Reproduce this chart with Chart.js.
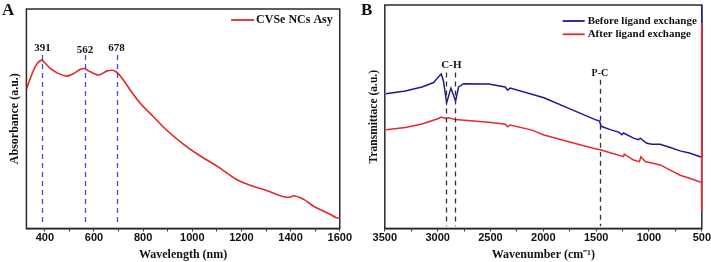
<!DOCTYPE html>
<html>
<head>
<meta charset="utf-8">
<script src="https://cdn.jsdelivr.net/npm/chart.js@4.4.1/dist/chart.umd.min.js"></script>
<style>
body { margin: 0; background: #fff; }
#wrap { position: relative; width: 711px; height: 262px; overflow: hidden; background: #fff; }
.panel { position: absolute; top: 0; height: 262px; }
.tag { position: absolute; font: bold 17px 'Liberation Serif', serif; color: #111; line-height: 17px; }
</style>
</head>
<body>
<div id="wrap">
  <div class="panel" style="left:0;width:352px"><canvas id="chartA"></canvas></div>
  <div class="panel" style="left:352px;width:359px"><canvas id="chartB"></canvas></div>
  <div class="tag" style="left:2px;top:1px">A</div>
  <div class="tag" style="left:361px;top:1px">B</div>
</div>
<script>
// panel A: absorbance spectrum
const wavelength = [325, 341, 361, 375, 387, 402, 422, 450, 490, 517, 545, 560, 578, 619, 653, 674, 690, 708, 748, 789, 843, 884, 966, 1034, 1102, 1188, 1305, 1387, 1400, 1411, 1455, 1495, 1523, 1563, 1584, 1600];
const absorbance = [0.633, 0.684, 0.737, 0.759, 0.767, 0.752, 0.729, 0.709, 0.694, 0.706, 0.725, 0.729, 0.718, 0.699, 0.718, 0.721, 0.714, 0.694, 0.630, 0.569, 0.508, 0.460, 0.382, 0.329, 0.283, 0.218, 0.172, 0.142, 0.143, 0.149, 0.131, 0.100, 0.085, 0.063, 0.050, 0.047];
const ticksA = [400, 500, 600, 700, 800, 900, 1000, 1100, 1200, 1300, 1400, 1500, 1600];
const peakPos = [390, 563, 692];
const peakText = ['391', '562', '678'];
const peakTextY = [0.823, 0.813, 0.823];

// panel B: FTIR
const wnBefore = [3489, 3306, 3148, 3038, 2997, 2966, 2945, 2915, 2874, 2830, 2802, 2754, 2518, 2360, 2338, 2313, 1994, 1698, 1509, 1468, 1452, 1367, 1288, 1256, 1241, 1146, 1099, 1083, 1020, 972, 894, 799, 705, 610, 515, 503, 501];
const tBefore = [0.603, 0.615, 0.633, 0.653, 0.676, 0.691, 0.660, 0.562, 0.628, 0.570, 0.633, 0.648, 0.646, 0.633, 0.619, 0.628, 0.585, 0.525, 0.487, 0.480, 0.457, 0.442, 0.431, 0.419, 0.427, 0.404, 0.397, 0.404, 0.381, 0.377, 0.377, 0.362, 0.347, 0.336, 0.321, 0.318, 1.2];
const wnAfter = [3489, 3306, 3148, 2991, 2966, 2928, 2896, 2833, 2518, 2360, 2338, 2313, 2107, 1994, 1698, 1509, 1461, 1351, 1241, 1234, 1146, 1090, 1077, 1036, 894, 799, 705, 610, 515, 503, 502, 501];
const tAfter = [0.442, 0.452, 0.467, 0.492, 0.498, 0.492, 0.495, 0.487, 0.475, 0.466, 0.455, 0.463, 0.440, 0.418, 0.380, 0.357, 0.352, 0.336, 0.321, 0.332, 0.306, 0.299, 0.321, 0.299, 0.284, 0.261, 0.238, 0.223, 0.208, 0.205, 0.08, 0.92];
const ticksB = [3500, 3250, 3000, 2750, 2500, 2250, 2000, 1750, 1500, 1250, 1000, 750, 500];
const bandPos = [2920, 2840, 1465];
const bandTop = [0.698, 0.698, 0.665];
const bandText = ['C-H', 'P-C'];
const bandTextX = [2870, 1465];
const bandTextY = [0.729, 0.694];

const serif = "'Liberation Serif', 'Times New Roman', serif";
const sans = "'Liberation Sans', Arial, sans-serif";

const frame = {
  id: 'frame',
  beforeDatasetsDraw(chart) {
    const { ctx, chartArea: a } = chart;
    ctx.save();
    ctx.strokeStyle = '#2a2a2a';
    ctx.lineWidth = 1.5;
    ctx.strokeRect(a.left, a.top, a.right - a.left, a.bottom - a.top);
    ctx.restore();
  }
};

const markers = {
  id: 'markers',
  afterDatasetsDraw(chart, args, o) {
    const { ctx, scales: { x, y } } = chart;
    ctx.save();
    ctx.strokeStyle = o.color;
    ctx.lineWidth = 1.3;
    ctx.setLineDash(o.dash);
    o.lines.forEach(l => {
      const px = Math.round(x.getPixelForValue(l.x)) + 0.5;
      ctx.beginPath();
      ctx.moveTo(px, y.getPixelForValue(l.top));
      ctx.lineTo(px, y.getPixelForValue(o.bottom));
      ctx.stroke();
    });
    ctx.setLineDash([]);
    ctx.fillStyle = '#111';
    ctx.textAlign = 'center';
    ctx.textBaseline = 'middle';
    o.labels.forEach(l => {
      ctx.font = 'bold ' + l.size + 'px ' + serif;
      ctx.fillText(l.text, x.getPixelForValue(l.x), y.getPixelForValue(l.y));
    });
    ctx.restore();
  }
};

const insideLegend = {
  id: 'insideLegend',
  afterDraw(chart, args, o) {
    const { ctx, chartArea: a } = chart;
    const items = chart.data.datasets;
    ctx.save();
    ctx.font = 'bold ' + o.size + 'px ' + serif;
    const w = Math.max(...items.map(d => ctx.measureText(d.label).width));
    const x0 = a.right - o.right - w - o.gap - o.line;
    items.forEach((d, i) => {
      const yy = a.top + o.top + i * o.row;
      ctx.strokeStyle = d.borderColor;
      ctx.lineWidth = 1.8;
      ctx.beginPath(); ctx.moveTo(x0, yy); ctx.lineTo(x0 + o.line, yy); ctx.stroke();
      ctx.fillStyle = '#111';
      ctx.textBaseline = 'middle';
      ctx.fillText(d.label, x0 + o.line + o.gap, yy);
    });
    ctx.restore();
  }
};

function xAxis(min, max, tickList, major, title, reverse) {
  return {
    type: 'linear', min: min, max: max, reverse: !!reverse,
    afterBuildTicks: s => { s.ticks = tickList.map(v => ({ value: v })); },
    grid: { drawOnChartArea: false, drawTicks: true, tickLength: 3, color: '#222', lineWidth: 1 },
    border: { color: '#2a2a2a', width: 1.5 },
    ticks: { autoSkip: false, maxRotation: 0, padding: 0, color: '#111',
             font: { family: sans, weight: 'bold', size: 11 },
             callback: v => (v % major === 0 ? v : '') },
    title: { display: true, text: title, color: '#111', padding: { top: 3, bottom: 0 },
             font: { family: serif, weight: 'bold', size: 12 } }
  };
}
function yAxis(title, size) {
  return {
    min: 0, max: 1,
    grid: { display: false, drawTicks: false },
    border: { display: false },
    ticks: { display: false },
    title: { display: true, text: title, color: '#111', padding: 4,
             font: { family: serif, weight: 'bold', size: size } }
  };
}

new Chart(document.getElementById('chartA'), {
  type: 'line',
  data: {
    datasets: [{
      label: 'CVSe NCs Asy',
      data: wavelength.map((w, i) => ({ x: w, y: absorbance[i] })),
      borderColor: '#e3262a', borderWidth: 1.6, pointRadius: 0, cubicInterpolationMode: 'monotone'
    }]
  },
  options: {
    responsive: true, maintainAspectRatio: false, animation: false,
    layout: { padding: { left: 4, right: 12, top: 9, bottom: 0 } },
    scales: { x: xAxis(325, 1600, ticksA, 200, 'Wavelength (nm)'), y: yAxis('Absorbance (a.u.)', 12) },
    plugins: {
      legend: { display: false }, tooltip: { enabled: false },
      markers: {
        color: '#4848d4', dash: [5, 4], bottom: 0.025,
        lines: peakPos.map(p => ({ x: p, top: 0.79 })),
        labels: peakText.map((t, i) => ({ text: t, x: peakPos[i], y: peakTextY[i], size: 11 }))
      },
      insideLegend: { size: 12, top: 11, row: 13, line: 23, gap: 2, right: 7 }
    }
  },
  plugins: [frame, markers, insideLegend]
});

// spectra end in a vertical jump on the 500 edge; let it show over the frame
const edgeClip = { left: 0, top: 0, right: 3, bottom: 0 };

new Chart(document.getElementById('chartB'), {
  type: 'line',
  data: {
    datasets: [{
      label: 'Before ligand exchange',
      data: wnBefore.map((w, i) => ({ x: w, y: tBefore[i] })),
      borderColor: '#1c1c96', borderWidth: 1.5, pointRadius: 0, tension: 0, order: 2, clip: edgeClip
    }, {
      label: 'After ligand exchange',
      data: wnAfter.map((w, i) => ({ x: w, y: tAfter[i] })),
      borderColor: '#e8282c', borderWidth: 1.5, pointRadius: 0, tension: 0, order: 1, clip: edgeClip
    }]
  },
  options: {
    responsive: true, maintainAspectRatio: false, animation: false,
    layout: { padding: { left: 11, right: 9, top: 5, bottom: 0 } },
    scales: { x: xAxis(500, 3500, ticksB, 500, 'Wavenumber (cm\u207B\u00B9)', true), y: yAxis('Transmittace (a.u.)', 11.5) },
    plugins: {
      legend: { display: false }, tooltip: { enabled: false },
      markers: {
        color: '#333', dash: [5, 4], bottom: 0.01,
        lines: bandPos.map((p, i) => ({ x: p, top: bandTop[i] })),
        labels: [
          { text: bandText[0], x: bandTextX[0], y: bandTextY[0], size: 11 },
          { text: bandText[1], x: bandTextX[1], y: bandTextY[1], size: 10 }
        ]
      },
      insideLegend: { size: 11, top: 16, row: 13.3, line: 22, gap: 3, right: 5 }
    }
  },
  plugins: [frame, markers, insideLegend]
});
</script>
</body>
</html>
